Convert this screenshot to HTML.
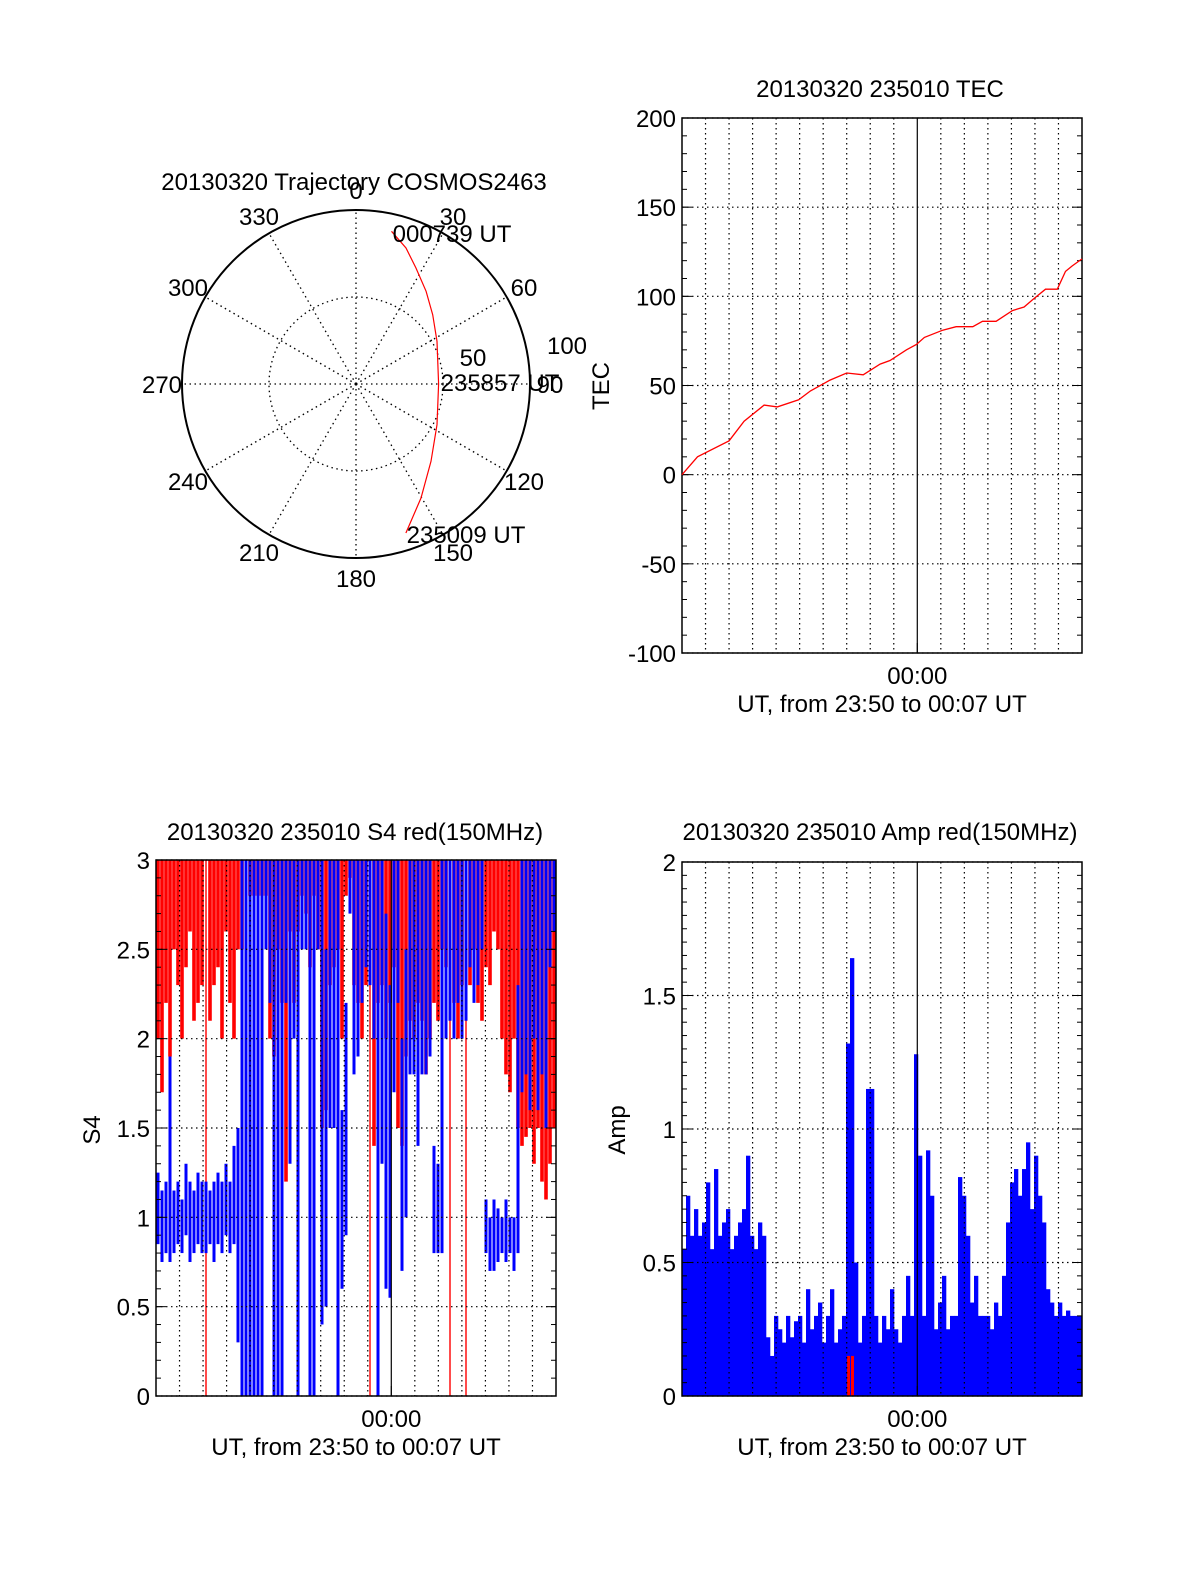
<!DOCTYPE html>
<html><head><meta charset="utf-8"><style>
body{margin:0;background:#fff}
svg text{font-family:"Liberation Sans",sans-serif;font-size:24px;fill:#000}
</style></head><body>
<svg id="s" width="1200" height="1575" xmlns="http://www.w3.org/2000/svg">
<rect width="1200" height="1575" fill="#fff"/>
</svg>
<script>
// ---- polar trajectory data ----
const trajAz = [161.5,150.3,135.9,116.7,90,62.2,47.9,37.1,27.3,20.2,13.1];
const trajR  = [90.3,75.4,61.9,52.1,47.5,52.6,59.4,66.8,75.1,83.3,90.1];
const azLabels = ["0","30","60","90","120","150","180","210","240","270","300","330"];
// ---- TEC data (minutes from 23:50) ----
const tecT = [0,0.66,2.0,2.64,3.49,4.05,4.96,5.46,6.29,7.0,7.7,8.42,8.84,9.54,9.96,10.3,11.08,11.65,12.36,12.77,13.35,14.04,14.54,14.89,15.45,15.95,16.3,16.58,17];
const tecV = [0,10,19,30,39,38,42,47,53,57,56,62,64,70,73,77,81,83,83,86,86,92,94,98,104,104,114,117,121];
const tecTicks = [-100,-50,0,50,100,150,200];
// ---- S4 data (100 bins) ----
const s4RedLo = [2.0,1.7,2.2,1.9,2.5,2.3,2.0,2.4,2.6,2.1,2.2,2.3,0,2.1,2.3,2.4,2.0,2.6,2.2,2.0,
 2.5,2.5,0,2.8,2.8,2.8,2.8,2.8,2.0,1.9,2.5,2.2,1.2,2.6,2.2,2.6,2.8,2.7,2.4,2.8,
 2.5,1.5,1.6,2.3,2.4,2.5,2.0,2.8,2.9,2.3,2.2,2.0,2.3,0,1.4,2.2,2.3,2.0,2.2,2.4,
 1.5,1.4,1.9,2.1,2.0,2.2,2.1,1.8,2.0,2.2,2.1,2.5,2.4,0,2.2,2.0,2.3,0,2.3,2.5,
 2.2,2.1,2.4,2.3,2.6,2.5,2.0,1.8,1.7,2.0,1.5,1.4,1.45,1.5,1.3,1.5,1.2,1.1,1.3,1.5];
const s4BlueLo = [0.85,0.75,0.8,0.75,0.8,0.85,0.8,0.9,0.75,0.8,0.85,0.8,0.8,0.85,0.75,0.85,0.8,0.9,0.8,0.85,
 0.3,0,0,0,0,0,0,2.5,2.2,0,0,0,2.2,1.3,2.0,0,2.5,2.5,0,0,
 2.5,0.4,0.5,1.5,1.5,0,0.6,0.9,2.7,1.8,1.9,2.2,2.4,2.3,2.0,0,1.3,0.6,0.55,1.7,
 2.2,0.7,1.0,1.8,1.8,1.4,1.8,1.8,1.9,0.8,0.8,0.8,2.0,2.1,2.0,2.2,2.0,2.1,2.4,2.2,
 2.3,2.5,0.8,0.7,0.7,0.75,0.8,0.75,0.8,0.7,0.8,1.7,1.8,1.6,2.0,1.6,1.8,1.5,2.4,2.6];
const s4BlueHi = [1.25,1.15,1.2,1.9,1.15,1.2,1.1,1.3,1.2,1.15,1.25,1.2,1.2,1.15,1.2,1.25,1.2,1.3,1.2,1.4,
 1.5,3,3,3,3,3,3,3,3,3,3,3,3,3,3,3,3,3,3,3,
 3,3,2.5,3,3,3,1.6,2.2,3,3,3,3,3,3,3,3,3,2.7,2.3,3,
 3,2.0,2.5,3,3,3,3,3,3,1.4,1.3,3,3,3,3,3,3,3,3,3,
 3,3,1.1,1.0,1.1,1.05,1.0,1.1,1.0,1.0,2.3,3,3,3,3,3,3,3,3,3];
const s4Ticks = [0,0.5,1,1.5,2,2.5,3];
// ---- Amp data (100 bins) ----
const ampBlue = [0.55,0.75,0.6,0.7,0.6,0.65,0.8,0.55,0.85,0.6,0.65,0.7,0.55,0.6,0.65,0.7,0.9,0.6,0.55,0.65,
 0.6,0.22,0.15,0.3,0.25,0.2,0.3,0.22,0.28,0.3,0.2,0.4,0.25,0.3,0.35,0.2,0.3,0.4,0.2,0.25,
 0.3,1.32,1.64,0.5,0.2,0.3,1.15,1.15,0.3,0.2,0.3,0.25,0.4,0.25,0.2,0.3,0.45,0.3,1.28,0.9,
 0.3,0.92,0.75,0.25,0.35,0.45,0.25,0.3,0.3,0.82,0.75,0.6,0.35,0.45,0.3,0.3,0.3,0.25,0.35,0.3,
 0.45,0.65,0.8,0.85,0.75,0.85,0.95,0.7,0.9,0.75,0.65,0.4,0.35,0.3,0.35,0.3,0.32,0.3,0.3,0.3];
const ampRed = [0,0,0,0,0,0,0,0,0,0,0,0,0,0,0,0,0,0,0,0,0,0,0,0,0,0,0,0,0,0,0,0,0,0,0,0,0,0,0,0,
 0,0.15,0.15,0,0,0,0,0,0,0,0,0,0,0,0,0,0,0,0,0,0,0,0,0,0,0,0,0,0,0,0,0,0,0,0,0,0,0,0,0,
 0,0,0,0,0,0,0,0,0,0,0,0,0,0,0,0,0,0,0,0];
const ampTicks = [0,0.5,1,1.5,2];

const S=document.getElementById('s'),NS='http://www.w3.org/2000/svg';
function mk(tag,at,parent){const e=document.createElementNS(NS,tag);for(const k in at)e.setAttribute(k,at[k]);(parent||S).appendChild(e);return e;}
function txt(x,y,s,anchor,extra){const t=mk('text',Object.assign({x:x,y:y,'text-anchor':anchor||'middle'},extra||{}));t.textContent=s;return t;}

// ---------- Polar ----------
const cx=356,cy=384,R=174;
const pr=v=>v/100*R;
const pg=mk('g',{});


for(let a=0;a<360;a+=30){const t=a*Math.PI/180;mk('line',{x1:cx,y1:cy,x2:cx+R*Math.sin(t),y2:cy-R*Math.cos(t),stroke:'#000','stroke-width':1.3,'stroke-dasharray':'1.5,3.5'},pg);}
mk('circle',{cx:cx,cy:cy,r:pr(50),fill:'none',stroke:'#000','stroke-width':1.3,'stroke-dasharray':'1.5,3.5'},pg);
mk('circle',{cx:cx,cy:cy,r:R,fill:'none',stroke:'#000','stroke-width':2},pg);
azLabels.forEach((l,i)=>{const t=i*30*Math.PI/180,rr=194;const e=txt(cx+rr*Math.sin(t),cy-rr*Math.cos(t)+9,l);});
txt(473,366,'50');txt(567,354,'100');
let pts=trajAz.map((a,i)=>{const t=a*Math.PI/180;return (cx+pr(trajR[i])*Math.sin(t)).toFixed(1)+','+(cy-pr(trajR[i])*Math.cos(t)).toFixed(1);});
const tl=mk('polyline',{points:pts.join(' '),fill:'none',stroke:'#f00','stroke-width':1.2},pg);


txt(452,242,'000739 UT');txt(500,391,'235857 UT');txt(466,543,'235009 UT');
const pt=txt(354,190,'20130320 Trajectory COSMOS2463');



// ---------- generic frame ----------
function frame(x0,y0,x1,y1,ymin,ymax,ticks,minor,name){
  const g=mk('g',{});
  
  
  const Y=v=>y1-(v-ymin)/(ymax-ymin)*(y1-y0);
  const X=t=>x0+t/17*(x1-x0);
  return {g,X,Y,x0,y0,x1,y1,ticks,minor,ymin,ymax};
}
function decorate(F,fmt){
  const {g,X,Y,x0,y0,x1,y1}=F;
  for(let m=1;m<17;m++){mk('line',{x1:X(m),y1:y0,x2:X(m),y2:y1,stroke:'#000','stroke-width':1.2,'stroke-dasharray':m==10?'none':'1.5,3.5'},g);}
  F.ticks.forEach(v=>{mk('line',{x1:x0,y1:Y(v),x2:x1,y2:Y(v),stroke:'#000','stroke-width':1.2,'stroke-dasharray':'1.5,3.5'},g);
    mk('line',{x1:x0,y1:Y(v),x2:x0+10,y2:Y(v),stroke:'#000'},g);mk('line',{x1:x1-10,y1:Y(v),x2:x1,y2:Y(v),stroke:'#000'},g);
    const e=txt(x0-6,Y(v)+9,fmt(v),'end');});
  for(let v=F.ymin;v<=F.ymax+1e-9;v+=F.minor){mk('line',{x1:x0,y1:Y(v),x2:x0+5,y2:Y(v),stroke:'#000'},g);mk('line',{x1:x1-5,y1:Y(v),x2:x1,y2:Y(v),stroke:'#000'},g);}
  mk('line',{x1:X(10),y1:y1,x2:X(10),y2:y1-10,stroke:'#000'},g);
  mk('rect',{x:x0,y:y0,width:x1-x0,height:y1-y0,fill:'none',stroke:'#000','stroke-width':1.5},g);
  const a=txt(X(10),y1+31,'00:00');
  const b=txt((x0+x1)/2,y1+59,'UT, from 23:50 to 00:07 UT');
}
const fmtN=v=>String(v);

// ---------- TEC ----------
const T=frame(682,118,1082,653,-100,200,tecTicks,10,'tec-panel');
decorate(T,fmtN);
const tp=mk('polyline',{points:tecT.map((t,i)=>T.X(t).toFixed(1)+','+T.Y(tecV[i]).toFixed(1)).join(' '),fill:'none',stroke:'#f00','stroke-width':1.3},T.g);


txt(880,97,'20130320 235010 TEC');
txt(0,0,'TEC','middle',{transform:'translate(609,386) rotate(-90)'});

// ---------- S4 ----------
const F4=frame(156,860,556,1396,0,3,s4Ticks,0.1,'s4-panel');
const bw4=(F4.x1-F4.x0)/s4RedLo.length;
const sg=mk('g',{},F4.g);
s4RedLo.forEach((v,i)=>{const x=F4.x0+(i+0.5)*bw4;const l=mk('line',{x1:x,y1:F4.Y(3),x2:x,y2:F4.Y(v),stroke:'#f00','stroke-width':v==0?1.4:3.6},sg);
 
 });
s4BlueLo.forEach((v,i)=>{const x=F4.x0+(i+0.5)*bw4;const l=mk('line',{x1:x,y1:F4.Y(s4BlueHi[i]),x2:x,y2:F4.Y(v),stroke:'#00f','stroke-width':3},sg);
 
 });
decorate(F4,v=>String(v));
txt(355,840,'20130320 235010 S4 red(150MHz)');
txt(0,0,'S4','middle',{transform:'translate(100,1130) rotate(-90)'});

// ---------- Amp ----------
const FA=frame(682,862,1082,1396,0,2,ampTicks,0.05,'amp-panel');
const bwA=(FA.x1-FA.x0)/ampBlue.length;
ampBlue.forEach((v,i)=>{const r=mk('rect',{x:FA.x0+i*bwA,y:FA.Y(v),width:bwA+0.3,height:FA.Y(0)-FA.Y(v),fill:'#00f'},FA.g);
 
 });
ampRed.forEach((v,i)=>{if(v>0){const r=mk('rect',{x:FA.x0+i*bwA+1,y:FA.Y(v),width:bwA-1,height:FA.Y(0)-FA.Y(v),fill:'#f00'},FA.g);
 
 }});
decorate(FA,v=>String(v));
txt(880,840,'20130320 235010 Amp red(150MHz)');
txt(0,0,'Amp','middle',{transform:'translate(625,1130) rotate(-90)'});
</script>
</body></html>
